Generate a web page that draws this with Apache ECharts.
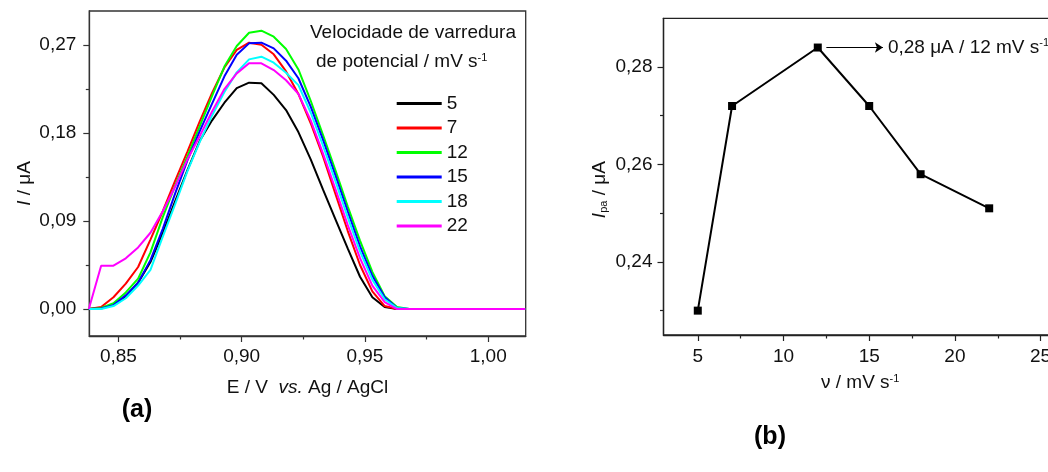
<!DOCTYPE html>
<html>
<head>
<meta charset="utf-8">
<script src="https://cdn.jsdelivr.net/npm/echarts@6/dist/echarts.min.js"></script>
<style>
  html, body { margin: 0; padding: 0; background: #fff; }
  #chart { width: 1048px; height: 472px; }
</style>
</head>
<body>
<div id="chart"></div>
<script>
// ---- (a) differential pulse voltammograms ----
const potentials = [0.838, 0.843, 0.848, 0.853, 0.858, 0.863, 0.868, 0.873, 0.878, 0.883,
                    0.888, 0.893, 0.898, 0.903, 0.908, 0.913, 0.918, 0.923, 0.928, 0.933,
                    0.938, 0.943, 0.948, 0.953, 0.958, 0.963, 0.968, 1.015];

const current5  = [0, 0.001, 0.004, 0.013, 0.027, 0.048, 0.078, 0.110, 0.142, 0.172,
                   0.193, 0.211, 0.226, 0.2315, 0.2308, 0.219, 0.2035, 0.181, 0.153, 0.122,
                   0.092, 0.062, 0.033, 0.012, 0.002, 0, 0, 0];
const current7  = [0, 0.002, 0.012, 0.026, 0.043, 0.071, 0.100, 0.131, 0.161, 0.192,
                   0.221, 0.247, 0.265, 0.2724, 0.2703, 0.2605, 0.243, 0.220, 0.190, 0.156,
                   0.118, 0.080, 0.045, 0.018, 0.003, 0, 0, 0];
const current12 = [0, 0.001, 0.006, 0.017, 0.031, 0.058, 0.094, 0.126, 0.156, 0.187,
                   0.218, 0.248, 0.269, 0.2826, 0.2847, 0.2785, 0.266, 0.245, 0.213, 0.178,
                   0.142, 0.105, 0.070, 0.038, 0.013, 0.002, 0, 0];
const current15 = [0, 0.0005, 0.004, 0.014, 0.027, 0.050, 0.082, 0.118, 0.152, 0.182,
                   0.210, 0.238, 0.260, 0.2717, 0.2724, 0.2666, 0.254, 0.236, 0.207, 0.173,
                   0.137, 0.100, 0.064, 0.034, 0.012, 0.001, 0, 0];
const current18 = [0, 0, 0.003, 0.011, 0.024, 0.040, 0.074, 0.107, 0.141, 0.171,
                   0.198, 0.222, 0.242, 0.2553, 0.2581, 0.2519, 0.2417, 0.229, 0.201, 0.167,
                   0.131, 0.094, 0.059, 0.030, 0.010, 0.001, 0, 0];
const current22 = [0, 0.0443, 0.0443, 0.0518, 0.063, 0.078, 0.100, 0.125, 0.153, 0.177,
                   0.202, 0.225, 0.241, 0.2513, 0.2513, 0.2444, 0.234, 0.220, 0.193, 0.159,
                   0.123, 0.086, 0.052, 0.024, 0.007, 0, 0, 0];

const scanRateNames = ['5', '7', '12', '15', '18', '22'];
const voltammograms = [current5, current7, current12, current15, current18, current22];

const potentialTicks = [0.85, 0.90, 0.95, 1.00];
const potentialMinorTicks = [0.875, 0.925, 0.975];
const currentTicks = [0, 0.09, 0.18, 0.27];
const currentMinorTicks = [0.045, 0.135, 0.225];

// ---- (b) anodic peak current vs scan rate ----
const scanRates = [5, 7, 12, 15, 18, 22];
const peakCurrents = [0.230, 0.272, 0.284, 0.272, 0.258, 0.251];

const rateTicks = [5, 10, 15, 20, 25];
const rateMinorTicks = [7.5, 12.5, 17.5, 22.5];
const peakTicks = [0.24, 0.26, 0.28];
const peakMinorTicks = [0.23, 0.25, 0.27];

// ---- styling ----
const FONT = '"Liberation Sans", Arial, sans-serif';
const AXIS_COLOR = '#333';
const curveColors = ['#000000', '#ff0000', '#00ff00', '#0000ff', '#00ffff', '#ff00ff'];

const comma = (v, d) => v.toFixed(d).replace('.', ',');

function majorAxis(extra) {
  return Object.assign({
    type: 'value',
    splitLine: { show: false },
    axisLine: { show: true, onZero: false, lineStyle: { color: AXIS_COLOR, width: 1.3 } },
    axisTick: { show: true, length: 6, lineStyle: { color: AXIS_COLOR, width: 1.2 } },
    axisLabel: { color: '#111', fontSize: 19, fontFamily: FONT }
  }, extra);
}
function minorAxis(extra) {
  return Object.assign({
    type: 'value',
    splitLine: { show: false },
    axisLine: { show: false, onZero: false },
    axisLabel: { show: false },
    axisTick: { show: true, length: 3.5, lineStyle: { color: AXIS_COLOR, width: 1.2 } }
  }, extra);
}

const supRich = {
  it:  { fontStyle: 'italic', fontSize: 19, fontFamily: FONT, color: '#111' },
  sup: { fontSize: 11, verticalAlign: 'top', fontFamily: FONT, color: '#111', padding: [0, 0, 9, 0] },
  sub: { fontSize: 11, fontFamily: FONT, color: '#111', padding: [9, 0, 0, 0] }
};

const chart = echarts.init(document.getElementById('chart'), null, { renderer: 'canvas' });

const X_LEFT = { min: 0.8382, max: 1.0152 };
const Y_LEFT = { min: -0.0276, max: 0.3048 };
const X_RIGHT = { min: 3, max: 27 };
const Y_RIGHT = { min: 0.225, max: 0.29 };

const peakIdx = peakCurrents.indexOf(Math.max(...peakCurrents));
const peakRate = scanRates[peakIdx];
const peakValue = peakCurrents[peakIdx];

const series = voltammograms.map((vals, i) => ({
  name: scanRateNames[i],
  type: 'line',
  xAxisIndex: 0,
  yAxisIndex: 0,
  showSymbol: false,
  symbol: 'none',
  lineStyle: { color: curveColors[i], width: 2 },
  itemStyle: { color: curveColors[i] },
  data: potentials.map((e, j) => [e, vals[j]]),
  z: 2 + i
}));

series.push({
  name: 'Ipa',
  type: 'line',
  xAxisIndex: 2,
  yAxisIndex: 2,
  symbol: 'rect',
  symbolSize: 8,
  clip: false,
  lineStyle: { color: '#000', width: 2 },
  itemStyle: { color: '#000' },
  data: scanRates.map((r, i) => [r, peakCurrents[i]]),
  markLine: {
    silent: true,
    animation: false,
    symbol: ['none', 'arrow'],
    symbolSize: 8,
    lineStyle: { color: '#000', width: 1, type: 'solid' },
    label: {
      show: true,
      position: 'end',
      distance: 5,
      color: '#111',
      fontSize: 19,
      fontFamily: FONT,
      formatter: comma(peakValue, 2) + ' μA / ' + peakRate + ' mV s{sup|-1}',
      rich: supRich
    },
    data: [[{ coord: [peakRate + 0.5, peakValue] }, { coord: [peakRate + 3.8, peakValue] }]]
  }
});

chart.setOption({
  animation: false,
  backgroundColor: '#fff',
  textStyle: { fontFamily: FONT },
  grid: [
    { left: 89.3, top: 11, width: 436.4, height: 325, show: true, borderColor: AXIS_COLOR, borderWidth: 1.3,
      backgroundColor: 'transparent', containLabel: false, outerBoundsMode: 'none' },
    { left: 663.5, top: 18.3, width: 411.4, height: 316.7, show: true, borderColor: '#222', borderWidth: 1.3,
      backgroundColor: 'transparent', containLabel: false, outerBoundsMode: 'none' }
  ],
  xAxis: [
    majorAxis({
      gridIndex: 0, position: 'bottom', min: X_LEFT.min, max: X_LEFT.max,
      axisTick: { show: true, length: 6, customValues: potentialTicks, lineStyle: { color: AXIS_COLOR, width: 1.2 } },
      axisLabel: { color: '#111', fontSize: 19, fontFamily: FONT, margin: 11, customValues: potentialTicks, formatter: v => comma(v, 2) },
      name: 'E / V  {it|vs.} Ag / AgCl', nameLocation: 'middle', nameGap: 42,
      nameTextStyle: { fontSize: 19, color: '#111', fontFamily: FONT, rich: supRich }
    }),
    minorAxis({ gridIndex: 0, position: 'bottom', min: X_LEFT.min, max: X_LEFT.max,
      axisTick: { show: true, length: 3.5, customValues: potentialMinorTicks, lineStyle: { color: AXIS_COLOR, width: 1.2 } } }),
    majorAxis({
      gridIndex: 1, position: 'bottom', min: X_RIGHT.min, max: X_RIGHT.max,
      axisTick: { show: true, length: 6, customValues: rateTicks, lineStyle: { color: '#222', width: 1.2 } },
      axisLabel: { color: '#111', fontSize: 19, fontFamily: FONT, margin: 12, customValues: rateTicks, formatter: v => String(v) },
      axisLine: { show: true, onZero: false, lineStyle: { color: '#222', width: 1.3 } },
      name: 'ν / mV s{sup|-1}', nameLocation: 'middle', nameGap: 38,
      nameTextStyle: { fontSize: 19, color: '#111', fontFamily: FONT, rich: supRich, padding: [0, 18, 0, 0] }
    }),
    minorAxis({ gridIndex: 1, position: 'bottom', min: X_RIGHT.min, max: X_RIGHT.max,
      axisTick: { show: true, length: 3.5, customValues: rateMinorTicks, lineStyle: { color: '#222', width: 1.2 } } })
  ],
  yAxis: [
    majorAxis({
      gridIndex: 0, position: 'left', min: Y_LEFT.min, max: Y_LEFT.max,
      axisTick: { show: true, length: 6, customValues: currentTicks, lineStyle: { color: AXIS_COLOR, width: 1.2 } },
      axisLabel: { color: '#111', fontSize: 19, fontFamily: FONT, margin: 13, customValues: currentTicks, formatter: v => comma(v, 2) },
      name: '{it|I} / μA', nameLocation: 'middle', nameGap: 55,
      nameTextStyle: { fontSize: 19, color: '#111', fontFamily: FONT, rich: supRich, padding: [0, 20, 0, 0] }
    }),
    minorAxis({ gridIndex: 0, position: 'left', min: Y_LEFT.min, max: Y_LEFT.max,
      axisTick: { show: true, length: 3.5, customValues: currentMinorTicks, lineStyle: { color: AXIS_COLOR, width: 1.2 } } }),
    majorAxis({
      gridIndex: 1, position: 'left', min: Y_RIGHT.min, max: Y_RIGHT.max,
      axisTick: { show: true, length: 6, customValues: peakTicks, lineStyle: { color: '#222', width: 1.2 } },
      axisLabel: { color: '#111', fontSize: 19, fontFamily: FONT, margin: 11, customValues: peakTicks, formatter: v => comma(v, 2) },
      axisLine: { show: true, onZero: false, lineStyle: { color: '#222', width: 1.3 } },
      name: '{it|I}{sub|pa} / μA', nameLocation: 'middle', nameGap: 54,
      nameTextStyle: { fontSize: 19, color: '#111', fontFamily: FONT, rich: supRich, padding: [0, 26, 0, 0] }
    }),
    minorAxis({ gridIndex: 1, position: 'left', min: Y_RIGHT.min, max: Y_RIGHT.max,
      axisTick: { show: true, length: 3.5, customValues: peakMinorTicks, lineStyle: { color: '#222', width: 1.2 } } })
  ],
  legend: {
    orient: 'vertical',
    left: 396.7,
    top: 94,
    padding: 0,
    itemWidth: 45,
    itemHeight: 3,
    itemGap: 5.5,
    icon: 'rect',
    selectedMode: false,
    data: scanRateNames,
    textStyle: { fontSize: 19, color: '#111', fontFamily: FONT, padding: [0, 0, 0, 0] }
  },
  graphic: [
    { type: 'text', x: 310, y: 33, silent: true,
      style: { text: 'Velocidade de varredura', fill: '#111', font: '19px ' + FONT, verticalAlign: 'middle' } },
    { type: 'text', x: 316, y: 62, silent: true,
      style: { text: 'de potencial / mV s{sup|-1}', fill: '#111', font: '19px ' + FONT, verticalAlign: 'middle', rich: supRich } },
    { type: 'text', x: 137, y: 410, silent: true,
      style: { text: '(a)', fill: '#000', font: 'bold 25px ' + FONT, align: 'center', verticalAlign: 'middle' } },
    { type: 'text', x: 770, y: 437, silent: true,
      style: { text: '(b)', fill: '#000', font: 'bold 25px ' + FONT, align: 'center', verticalAlign: 'middle' } }
  ],
  series: series
});
</script>
</body>
</html>
